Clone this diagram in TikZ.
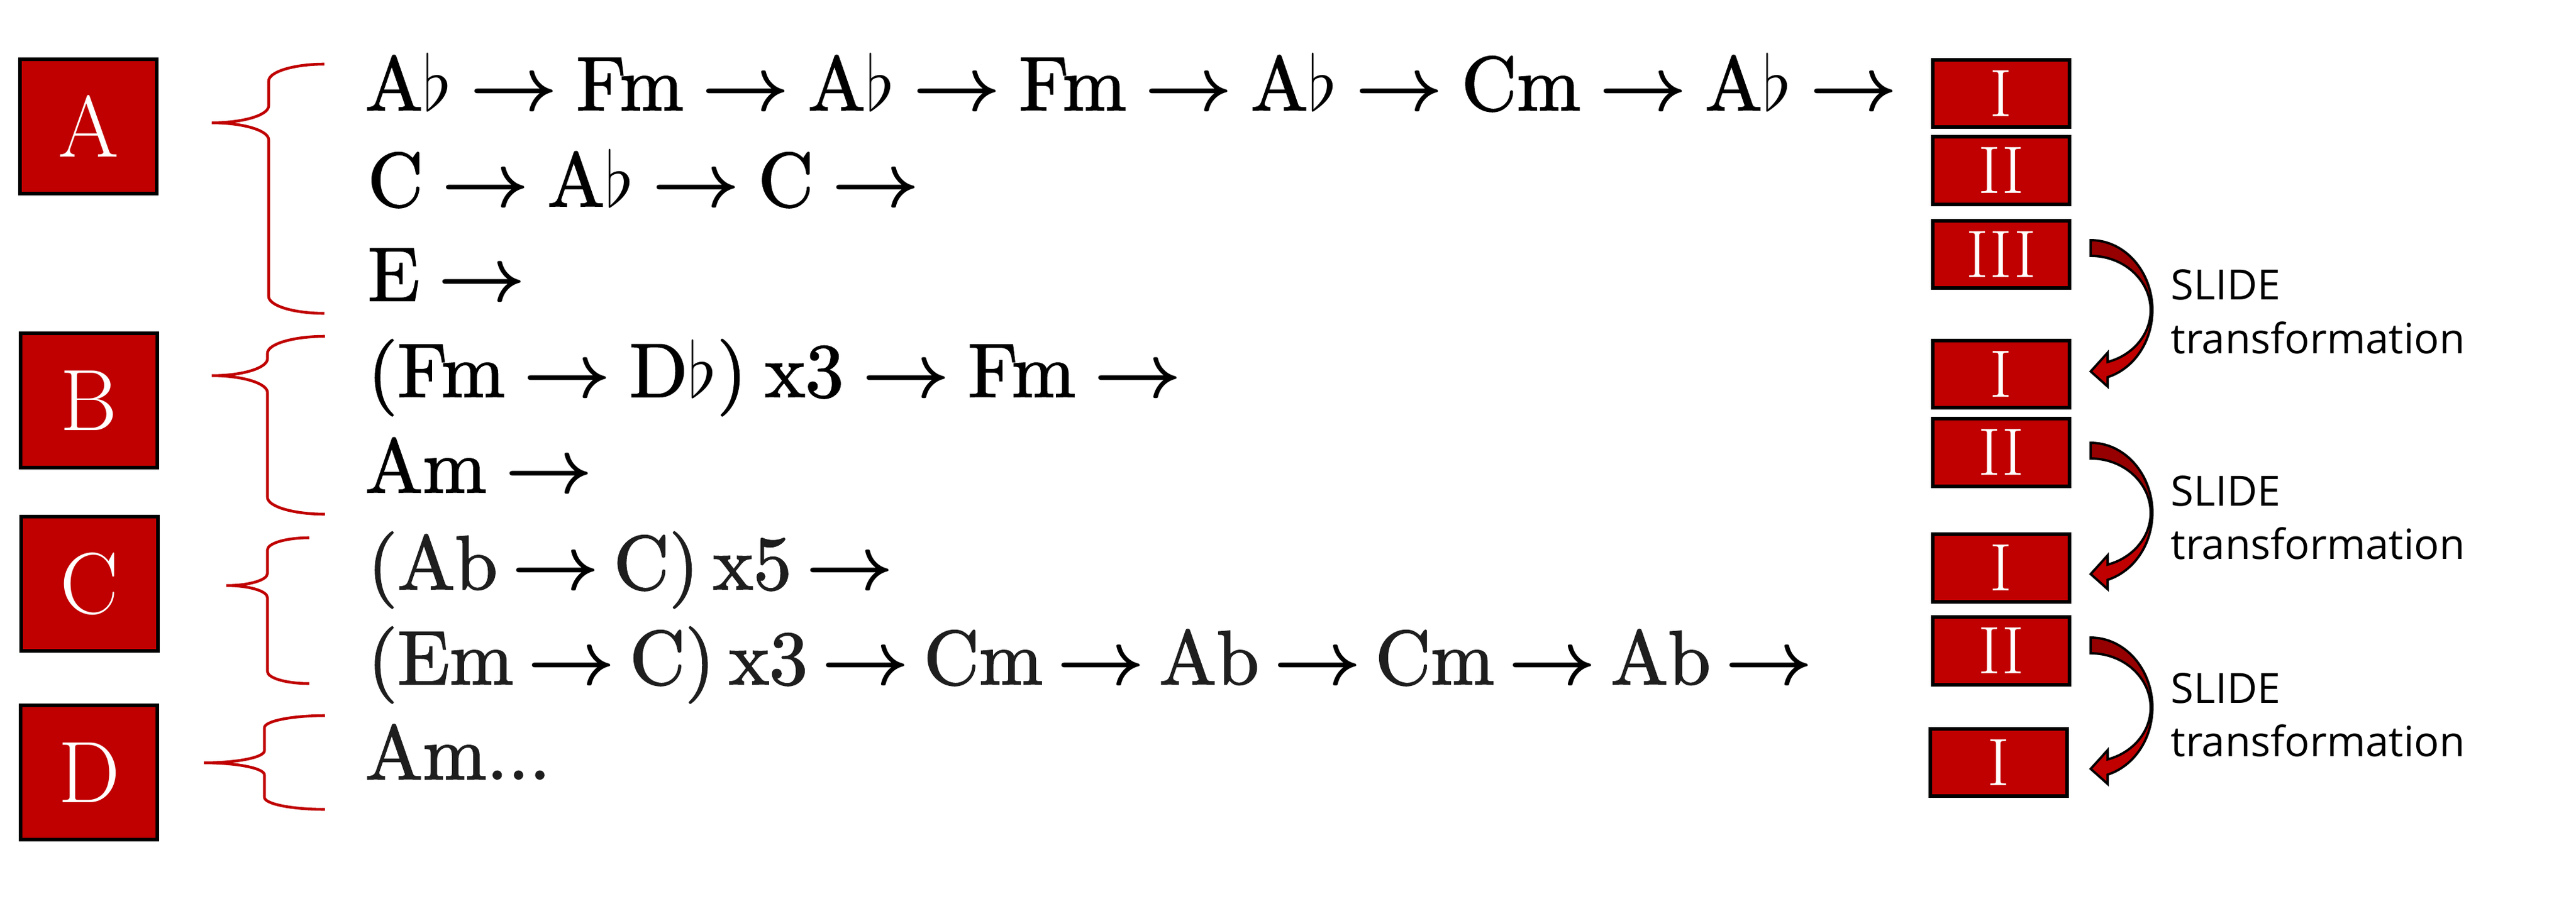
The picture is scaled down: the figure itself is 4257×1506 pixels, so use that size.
\RequirePackage{fix-cm}
\documentclass[tikz,border=0pt]{standalone}
\usepackage{fontspec}
\newfontfamily\sansf{Open Sans}
\newfontfamily\chordf[FakeBold=1.6]{lmroman10-regular.otf}
\definecolor{boxred}{RGB}{192,0,0}
\definecolor{darkface}{RGB}{150,0,0}
\definecolor{softblack}{RGB}{30,30,30}
\newcommand\ar{{\color{black}\boldmath$\rightarrow$}}
\newcommand\fl{$\flat$}
\newcommand\chordsetup{\chordf\fontsize{36}{40}\selectfont\spaceskip=8.5pt plus 3pt minus 3pt\relax}
\newcommand\chordtight{\chordf\fontsize{36}{40}\selectfont\spaceskip=6.6pt plus 3pt minus 3pt\relax}
\newcommand\chordbrace[7]{% xe, yt, xv, xp, yp, yb, r
  \draw[bracestyle] ({#1},{-#2}) .. controls ({#1-0.55*(#1-#3)},{-#2}) and ({#3},{-#2-0.45*#7}) .. ({#3},{-#2-#7})
   -- ({#3},{-#5+#7}) .. controls ({#3},{-#5+0.45*#7}) and ({#4+0.55*(#3-#4)},{-#5}) .. ({#4},{-#5})
   .. controls ({#4+0.55*(#3-#4)},{-#5}) and ({#3},{-#5-0.45*#7}) .. ({#3},{-#5-#7})
   -- ({#3},{-#6+#7}) .. controls ({#3},{-#6+0.45*#7}) and ({#1-0.55*(#1-#3)},{-#6}) .. ({#1},{-#6});}
\tikzset{
 lbox/.style={draw=black, line width=1.7pt, fill=boxred, text=white, minimum width=2.25cm, minimum height=2.22cm, inner sep=0pt, font=\fontsize{41}{41}\selectfont},
 rbox/.style={draw=black, line width=1.7pt, fill=boxred, text=white, minimum width=2.26cm, minimum height=1.11cm, inner sep=0pt, font=\fontsize{31.6}{32}\selectfont},
 row/.style={anchor=base west, inner sep=0pt, font=\chordsetup},
 tightrow/.style={row, text=softblack, font=\chordtight},
 slide/.style={anchor=base west, inner sep=0pt, font=\sansf\fontsize{19.6}{24}\selectfont},
 bracestyle/.style={draw=boxred, line width=1.3pt},
 arrowface/.style={draw=black, line width=1.1pt, line join=miter}
}
\begin{document}
\begin{tikzpicture}[x=0.01cm, y=0.01cm]
\useasboundingbox[fill=white] (0,0) rectangle (4257,-1506);
% left section boxes
\node[lbox] (A) at (146,-209) {A};
\node[lbox] (B) at (147,-662) {B};
\node[lbox] (C) at (148,-965) {C};
\node[lbox] (D) at (147,-1277) {D};
% braces
\chordbrace{536}{106}{444}{350}{203}{518}{28}
\chordbrace{537}{556}{442}{350}{621}{850}{28}
\chordbrace{511}{889}{442}{374}{968}{1130}{20}
\chordbrace{537}{1183}{437}{337}{1261}{1338}{20}
% chord rows
\node[row] (t1) at (603,-182) {A\fl\ \ar\ Fm \ar\ A\fl\ \ar\ Fm \ar\ A\fl\ \ar\ Cm \ar\ A\fl\ \ar};
\node[row] (t2) at (607,-341) {C \ar\ A\fl\ \ar\ C \ar};
\node[row] (t3) at (607,-497) {E \ar};
\node[row] (t4) at (607,-656) {(Fm \ar\ D\fl) x3 \ar\ Fm \ar};
\node[row] (t5) at (603,-814) {Am \ar};
\node[tightrow] (t6) at (607,-974) {(Ab \ar\ C) x5 \ar};
\node[tightrow] (t7) at (607,-1131) {(Em \ar\ C) x3 \ar\ Cm \ar\ Ab \ar\ Cm \ar\ Ab \ar};
\node[row, text=softblack] (t8) at (603,-1288) {Am...};
% right boxes
\node[rbox] (r1) at (3307,-154.5) {I};
\node[rbox] (r2) at (3307,-282) {II};
\node[rbox] (r3) at (3307,-420.5) {III};
\node[rbox] (r4) at (3307,-618.5) {I};
\node[rbox] (r5) at (3307,-748) {II};
\node[rbox] (r6) at (3307,-939) {I};
\node[rbox] (r7) at (3307,-1076) {II};
\node[rbox] (r8) at (3303,-1260.5) {I};
% curved arrows
\foreach \cy in {513,848,1170}{
  \draw[arrowface, fill=darkface] (3455,{-\cy+116}) arc[start angle=90,end angle=0,x radius=102,y radius=116]
     -- (3554,{-\cy}) arc[start angle=0,end angle=90,x radius=99,y radius=90] -- cycle;
  \draw[arrowface, fill=boxred] (3554,{-\cy}) arc[start angle=0,end angle=-73.5,x radius=99,y radius=89]
     -- (3483,{-\cy-70}) -- (3455,{-\cy-101}) -- (3483,{-\cy-126}) -- (3483,{-\cy-110.5})
     arc[start angle=-74,end angle=0,x radius=102,y radius=115] -- cycle;
}
% labels
\node[slide] (s1a) at (3587,-495) {SLIDE};
\node[slide] (s1b) at (3587,-584) {transformation};
\node[slide] (s2a) at (3587,-836) {SLIDE};
\node[slide] (s2b) at (3587,-924) {transformation};
\node[slide] (s3a) at (3587,-1162) {SLIDE};
\node[slide] (s3b) at (3587,-1250) {transformation};
\end{tikzpicture}
\end{document}
